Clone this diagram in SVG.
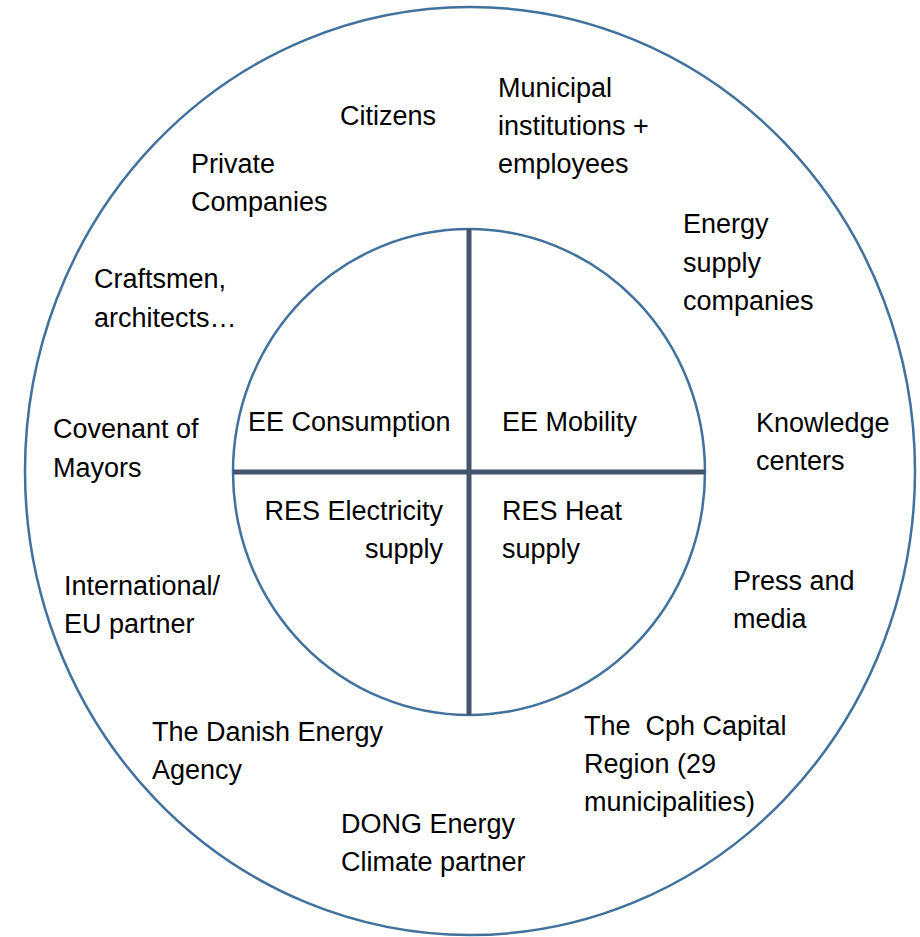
<svg xmlns="http://www.w3.org/2000/svg" width="920" height="937" viewBox="0 0 920 937">
<style>
.ring{fill:none;stroke:#41719c;stroke-width:2.5}
.div{stroke:#44546a;stroke-width:5;fill:none}
text{font-family:"Liberation Sans",Arial,sans-serif;font-size:27px;fill:#000}
.r{text-anchor:end}
</style>
<rect width="920" height="937" fill="#fff"/>
<g id="outer-ring"><ellipse class="ring" cx="470" cy="471" rx="445" ry="464"/></g>
<g id="inner-ring"><ellipse class="ring" cx="469" cy="472" rx="236" ry="243"/></g>
<g id="connectors">
<line class="div" x1="469" y1="229" x2="469" y2="715"/>
<line class="div" x1="233" y1="472" x2="705" y2="472"/>
</g>
<g id="ee-consumption"><text x="248" y="431">EE Consumption</text></g>
<g id="ee-mobility"><text x="502" y="431">EE Mobility</text></g>
<g id="res-electricity"><text class="r" x="443" y="520">RES Electricity</text><text class="r" x="443" y="558">supply</text></g>
<g id="res-heat"><text x="502" y="520">RES Heat</text><text x="502" y="558">supply</text></g>
<g id="citizens"><text x="340" y="125">Citizens</text></g>
<g id="municipal"><text x="498" y="97">Municipal</text><text x="498" y="135">institutions +</text><text x="498" y="173">employees</text></g>
<g id="private"><text x="191" y="173">Private</text><text x="191" y="211">Companies</text></g>
<g id="craftsmen"><text x="94" y="288">Craftsmen,</text><text x="94" y="327">architects…</text></g>
<g id="energy-supply"><text x="683" y="233">Energy</text><text x="683" y="272">supply</text><text x="683" y="310">companies</text></g>
<g id="covenant"><text x="53" y="438">Covenant of</text><text x="53" y="477">Mayors</text></g>
<g id="knowledge"><text x="756" y="432">Knowledge</text><text x="756" y="470">centers</text></g>
<g id="international"><text x="64" y="595">International/</text><text x="64" y="633">EU partner</text></g>
<g id="press"><text x="733" y="590">Press and</text><text x="733" y="628">media</text></g>
<g id="danish-agency"><text x="152" y="741">The Danish Energy</text><text x="152" y="779">Agency</text></g>
<g id="cph-region"><text x="584" y="735" xml:space="preserve">The  Cph Capital</text><text x="584" y="773">Region (29</text><text x="584" y="811">municipalities)</text></g>
<g id="dong"><text x="341" y="833">DONG Energy</text><text x="341" y="871">Climate partner</text></g>
</svg>
